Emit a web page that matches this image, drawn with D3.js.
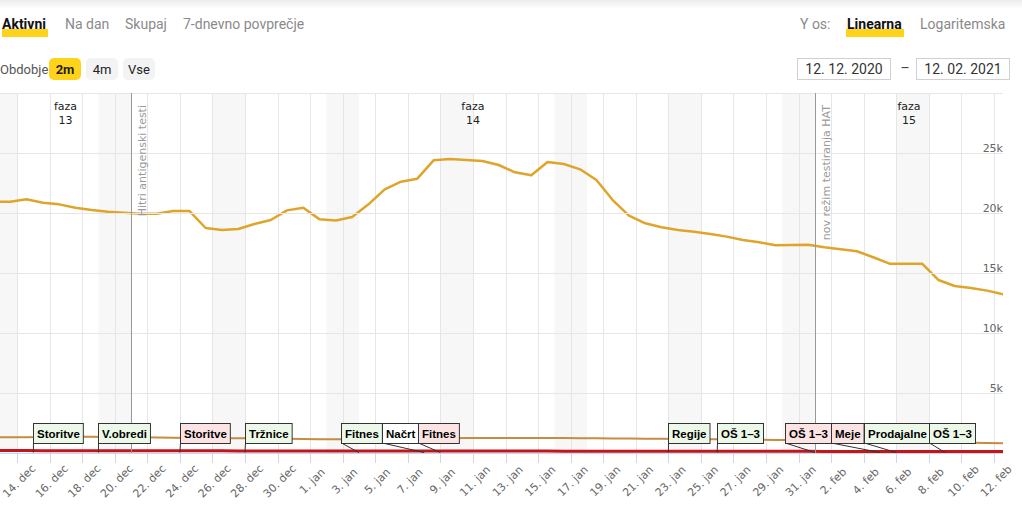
<!DOCTYPE html>
<html>
<head>
<meta charset="utf-8">
<script src="https://cdn.jsdelivr.net/npm/d3@7"></script>
<style>
body { margin: 0; background: #fff; overflow: hidden; }
svg { display: block; }
</style>
</head>
<body>
<svg id="chart" width="1022" height="517"></svg>
<script>
// ---------------- data ----------------
var prviDan = "2020-12-12";

// aktivni primeri, 12. 12. 2020 - 12. 02. 2021
var aktivni = [
  20950, 20940, 21140, 20860, 20720, 20440, 20250, 20110, 20030, 19940,
  19940, 20170, 20170, 18750, 18580, 18670, 19080, 19420, 20220, 20440,
  19470, 19370, 19670, 20720, 21970, 22610, 22860, 24390, 24500, 24420,
  24330, 24000, 23390, 23140, 24250, 24080, 23640, 22750, 21080, 19780,
  19140, 18820, 18580, 18440, 18250, 18030, 17750, 17560, 17310, 17330,
  17360, 17140, 16970, 16810, 16310, 15780, 15780, 15780, 14420, 13920,
  13750, 13530, 13220
];

var hospitalizirani = [
  1300, 1310, 1320, 1330, 1340, 1350, 1350, 1340, 1330, 1310,
  1290, 1280, 1260, 1240, 1230, 1230, 1220, 1200, 1180, 1170,
  1150, 1140, 1140, 1150, 1170, 1190, 1210, 1220, 1230, 1240,
  1250, 1250, 1260, 1260, 1250, 1240, 1230, 1220, 1210, 1200,
  1190, 1180, 1170, 1160, 1150, 1140, 1120, 1100, 1090, 1080,
  1060, 1040, 1020, 1000, 980, 960, 940, 920, 900, 880,
  860, 840, 820
];

var intenzivna = [
  200, 200, 200, 195, 195, 195, 190, 190, 190, 185,
  185, 185, 180, 180, 180, 175, 175, 175, 170, 170,
  170, 165, 165, 165, 165, 165, 165, 165, 160, 160,
  160, 160, 160, 160, 160, 155, 155, 155, 155, 150,
  150, 150, 150, 145, 145, 145, 145, 140, 140, 140,
  140, 135, 135, 135, 135, 130, 130, 130, 130, 125,
  125, 125, 125
];

var yTicks = [5000, 10000, 15000, 20000, 25000, 30000];
var yLabels = ["5k", "10k", "15k", "20k", "25k", ""];
var mesci = ["jan", "feb", "mar", "apr", "maj", "jun", "jul", "avg", "sep", "okt", "nov", "dec"];

var ukrepi = [
  { datum: "2020-12-15", naziv: "Storitve", tip: "sprostitev" },
  { datum: "2020-12-19", naziv: "V.obredi", tip: "sprostitev" },
  { datum: "2020-12-24", naziv: "Storitve", tip: "zaostritev" },
  { datum: "2020-12-28", naziv: "Tržnice", tip: "sprostitev" },
  { datum: "2021-01-04", naziv: "Fitnes", tip: "sprostitev" },
  { datum: "2021-01-08", naziv: "Načrt", tip: "drugo" },
  { datum: "2021-01-09", naziv: "Fitnes", tip: "zaostritev" },
  { datum: "2021-01-23", naziv: "Regije", tip: "sprostitev" },
  { datum: "2021-01-26", naziv: "OŠ 1–3", tip: "sprostitev" },
  { datum: "2021-02-01", naziv: "OŠ 1–3", tip: "zaostritev" },
  { datum: "2021-02-05", naziv: "Meje", tip: "zaostritev" },
  { datum: "2021-02-06", naziv: "Prodajalne", tip: "sprostitev" },
  { datum: "2021-02-09", naziv: "OŠ 1–3", tip: "sprostitev" }
];

var mejniki = [
  { datum: "2020-12-21", naziv: "Hitri antigenski testi" },
  { datum: "2021-02-01", naziv: "nov režim testiranja HAT" }
];

var faze = [
  { od: null, do: "2020-12-21", naziv: "13" },
  { od: "2020-12-21", do: "2021-02-01", naziv: "14" },
  { od: "2021-02-01", do: null, naziv: "15" }
];

var barveUkrepov = { sprostitev: "#ecf9e8", zaostritev: "#fde4e4", drugo: "#ffffff" };

// ---------------- layout ----------------
var parse = d3.timeParse("%Y-%m-%d");
var svg = d3.select("#chart");
var plot = { left: 0, right: 1003, top: 93, bottom: 453 };

var x = d3.scaleTime()
  .domain([new Date(2020, 11, 13), new Date(2021, 1, 12)])
  .range([0.72, 994]);
var y = d3.scaleLinear().domain([0, 30000]).range([plot.bottom, plot.top]);

var zacetek = x.invert(plot.left), konec = x.invert(plot.right);
var dnevi = aktivni.map(function(v, i) { return d3.timeDay.offset(parse(prviDan), i); });

// top shadow
var defs = svg.append("defs");
var grad = defs.append("linearGradient").attr("id", "senca").attr("x1", 0).attr("x2", 0).attr("y1", 0).attr("y2", 1);
grad.append("stop").attr("offset", "0%").attr("stop-color", "#ececec");
grad.append("stop").attr("offset", "100%").attr("stop-color", "#ffffff");
svg.append("rect").attr("x", 0).attr("y", 0).attr("width", 1022).attr("height", 9).attr("fill", "url(#senca)");

defs.append("clipPath").attr("id", "izrez").append("rect")
  .attr("x", plot.left).attr("y", plot.top - 1)
  .attr("width", plot.right - plot.left).attr("height", plot.bottom - plot.top + 2);

// ---------------- controls ----------------
var ui = svg.append("g").attr("font-family", "Roboto, sans-serif");
ui.append("rect").attr("x", 2).attr("y", 29).attr("width", 46).attr("height", 8).attr("fill", "#ffd31a");
ui.append("rect").attr("x", 846).attr("y", 29).attr("width", 58).attr("height", 8).attr("fill", "#ffd31a");

var zavihki = [
  { t: "Aktivni", x: 2, b: true }, { t: "Na dan", x: 65 }, { t: "Skupaj", x: 125 },
  { t: "7-dnevno povprečje", x: 183 }, { t: "Y os:", x: 800 },
  { t: "Linearna", x: 847, b: true }, { t: "Logaritemska", x: 920 }
];
ui.selectAll("text.zav").data(zavihki).enter().append("text")
  .attr("x", function(d) { return d.x; }).attr("y", 29)
  .attr("font-size", 14)
  .attr("font-weight", function(d) { return d.b ? 700 : 400; })
  .attr("fill", function(d) { return d.b ? "#111" : "#8a8a8a"; })
  .text(function(d) { return d.t; });

ui.append("text").attr("x", 0).attr("y", 74).attr("font-size", 13).attr("fill", "#555").text("Obdobje");
var gumbi = [{ t: "2m", x: 49, w: 32, on: true }, { t: "4m", x: 86, w: 32 }, { t: "Vse", x: 123, w: 32 }];
var g = ui.selectAll("g.gumb").data(gumbi).enter().append("g");
g.append("rect").attr("x", function(d) { return d.x; }).attr("y", 58).attr("width", function(d) { return d.w; })
  .attr("height", 22).attr("rx", 5).attr("fill", function(d) { return d.on ? "#ffd31a" : "#f3f3f3"; });
g.append("text").attr("x", function(d) { return d.x + d.w / 2; }).attr("y", 74).attr("text-anchor", "middle")
  .attr("font-size", 13).attr("font-weight", function(d) { return d.on ? 700 : 400; })
  .attr("fill", "#222").text(function(d) { return d.t; });

var polja = [{ t: "12. 12. 2020", x: 797 }, { t: "12. 02. 2021", x: 916 }];
var p = ui.selectAll("g.polje").data(polja).enter().append("g");
p.append("rect").attr("x", function(d) { return d.x + 0.5; }).attr("y", 58.5).attr("width", 93).attr("height", 21)
  .attr("fill", "#fff").attr("stroke", "#d0d0d0");
p.append("text").attr("x", function(d) { return d.x + 47; }).attr("y", 74).attr("text-anchor", "middle")
  .attr("font-size", 14).attr("fill", "#333").text(function(d) { return d.t; });
ui.append("text").attr("x", 905).attr("y", 73).attr("text-anchor", "middle").attr("font-size", 14).attr("fill", "#444").text("–");

// ---------------- chart ----------------
var chart = svg.append("g").attr("font-family", "'DejaVu Sans', sans-serif");
var znotraj = chart.append("g").attr("clip-path", "url(#izrez)");

// weekend bands
var vikendi = d3.timeSaturday.range(d3.timeDay.offset(zacetek, -7), konec);
znotraj.selectAll("rect.vikend").data(vikendi).enter().append("rect")
  .attr("x", function(d) { return x(d); })
  .attr("width", function(d) { return x(d3.timeDay.offset(d, 2)) - x(d); })
  .attr("y", plot.top).attr("height", plot.bottom - plot.top)
  .attr("fill", "#f7f7f7");

// grid
var xTicks = d3.timeDay.range(new Date(2020, 11, 14), konec, 2);
znotraj.selectAll("line.vg").data(xTicks).enter().append("line")
  .attr("x1", function(d) { return Math.round(x(d)) + 0.5; })
  .attr("x2", function(d) { return Math.round(x(d)) + 0.5; })
  .attr("y1", plot.top).attr("y2", plot.bottom).attr("stroke", "#e6e6e6");
chart.selectAll("line.hg").data(yTicks).enter().append("line")
  .attr("x1", plot.left).attr("x2", plot.right)
  .attr("y1", function(d) { return Math.round(y(d)) + 0.5; })
  .attr("y2", function(d) { return Math.round(y(d)) + 0.5; })
  .attr("stroke", "#e6e6e6");

// phase labels
var fazeT = chart.selectAll("text.faza").data(faze).enter().append("text")
  .attr("text-anchor", "middle").attr("font-size", 11).attr("fill", "#222")
  .attr("transform", function(d) {
    var a = d.od ? x(parse(d.od)) : plot.left;
    var b = d.do ? x(parse(d.do)) : plot.right;
    return "translate(" + ((a + b) / 2) + ",110)";
  });
fazeT.append("tspan").attr("x", 0).attr("y", 0).text("faza");
fazeT.append("tspan").attr("x", 0).attr("y", 14).text(function(d) { return d.naziv; });

// plot lines
var ml = chart.selectAll("g.mejnik").data(mejniki).enter().append("g")
  .attr("transform", function(d) { return "translate(" + (Math.round(x(parse(d.datum))) + 0.5) + ",0)"; });
ml.append("line").attr("y1", plot.top).attr("y2", plot.bottom).attr("stroke", "#999");
ml.append("text").attr("transform", "translate(14,105) rotate(-90)").attr("text-anchor", "end")
  .attr("font-size", 11).attr("fill", "#9a9a9a").text(function(d) { return d.naziv; });

// series
function crta(vrednosti) {
  return d3.line()
    .x(function(d, i) { return x(d3.timeHour.offset(dnevi[i], 14)); })
    .y(function(d) { return y(d); })(vrednosti);
}
znotraj.append("path").attr("d", crta(hospitalizirani)).attr("fill", "none")
  .attr("stroke", "#c88b40").attr("stroke-width", 2);
znotraj.append("path").attr("d", crta(aktivni)).attr("fill", "none")
  .attr("stroke", "#dfa52a").attr("stroke-width", 2.5).attr("stroke-linejoin", "round");

// x axis
chart.append("line").attr("x1", plot.left).attr("x2", plot.right)
  .attr("y1", plot.bottom + 0.5).attr("y2", plot.bottom + 0.5).attr("stroke", "#ccd6eb");
znotraj.append("path").attr("d", crta(intenzivna)).attr("fill", "none")
  .attr("stroke", "#c2161c").attr("stroke-width", 3);

chart.selectAll("line.tick").data(xTicks).enter().append("line")
  .attr("x1", function(d) { return Math.round(x(d)) + 0.5; })
  .attr("x2", function(d) { return Math.round(x(d)) + 0.5; })
  .attr("y1", plot.bottom).attr("y2", plot.bottom + 10).attr("stroke", "#ccd6eb");
chart.selectAll("text.xl").data(xTicks).enter().append("text")
  .attr("transform", function(d) { return "translate(" + (x(d) + 2) + ",481) rotate(-45)"; })
  .attr("text-anchor", "middle").attr("dy", "0.35em").attr("font-size", 11).attr("fill", "#666")
  .text(function(d) { return d.getDate() + ". " + mesci[d.getMonth()]; });

// y labels
chart.selectAll("text.yl").data(yTicks).enter().append("text")
  .attr("x", plot.right).attr("y", function(d) { return y(d) - 1.5; })
  .attr("text-anchor", "end").attr("font-size", 11).attr("fill", "#666")
  .text(function(d, i) { return yLabels[i]; });

// flags
var zastave = chart.append("g").attr("font-family", "'Liberation Sans', Arial, sans-serif");
var zs = zastave.selectAll("g").data(ukrepi).enter().append("g");
zs.append("line").attr("class", "drog");
zs.append("rect").attr("class", "okvir");
zs.append("text").attr("font-size", 11.5).attr("font-weight", 700).attr("fill", "#000")
  .attr("y", 437.5).text(function(d) { return d.naziv; });
zs.each(function(d) {
  d.cilj = x(parse(d.datum));
  d.w = this.querySelector("text").getComputedTextLength() + 7;
});

// spread overlapping flags (groups are centred on their targets)
var skupine = ukrepi.map(function(d) { return { el: [d], x: d.cilj, w: d.w }; });
var spremeni = true;
while (spremeni) {
  spremeni = false;
  for (var i = skupine.length - 1; i > 0; i--) {
    var a = skupine[i - 1], b = skupine[i];
    if (a.x + a.w + 3 > b.x) {
      var el = a.el.concat(b.el), o = 0, vsota = 0;
      el.forEach(function(d) { vsota += d.cilj - o - d.w / 2; o += d.w; });
      skupine.splice(i - 1, 2, { el: el, x: vsota / el.length, w: o });
      spremeni = true;
      break;
    }
  }
}
skupine.forEach(function(s) {
  var o = 0, zamik = s.el.length > 1 ? -8 : 0;
  s.el.forEach(function(d) { d.bx = Math.round(s.x + zamik + o) + 0.5; o += d.w; });
});

zs.select("rect").attr("x", function(d) { return d.bx; }).attr("y", 423.5)
  .attr("width", function(d) { return d.w; }).attr("height", 20)
  .attr("fill", function(d) { return barveUkrepov[d.tip]; }).attr("stroke", "#333");
zs.select("text").attr("x", function(d) { return d.bx + 3.5; });
zs.select("line").attr("x1", function(d) { return d.bx; }).attr("y1", 443)
  .attr("x2", function(d) { return d.cilj; }).attr("y2", 452.5).attr("stroke", "#333");
</script>
</body>
</html>
